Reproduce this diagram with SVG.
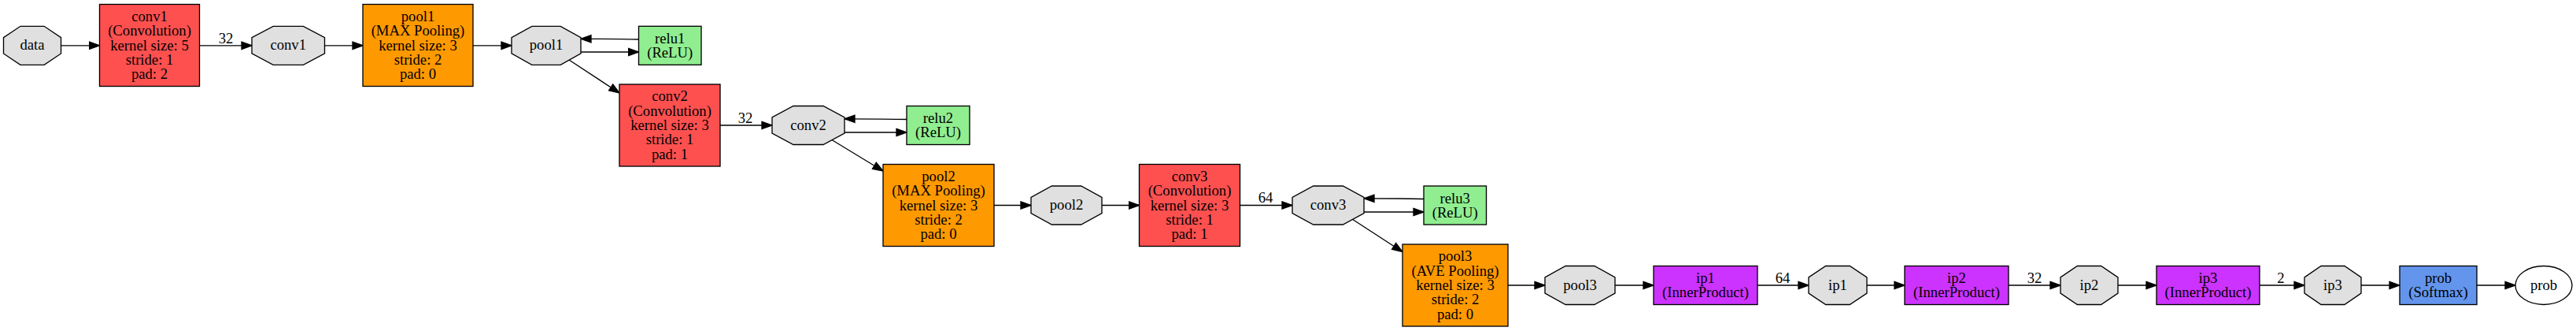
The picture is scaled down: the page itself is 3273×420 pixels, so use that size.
<svg xmlns="http://www.w3.org/2000/svg" width="3273" height="420" viewBox="0 0 3273 420">
<style>
.t{font-family:"Liberation Serif","Times New Roman",serif;font-size:18.67px;text-anchor:middle;fill:#000}
.blob{fill:#E0E0E0;stroke:#000;stroke-width:1.33}
.conv{fill:#FF5050;stroke:#000;stroke-width:1.33}
.pool{fill:#FF9900;stroke:#000;stroke-width:1.33}
.relu{fill:#90EE90;stroke:#000;stroke-width:1.33}
.ip{fill:#CC33FF;stroke:#000;stroke-width:1.33}
.sm{fill:#6495ED;stroke:#000;stroke-width:1.33}
.out{fill:#FFFFFF;stroke:#000;stroke-width:1.33}
.e{fill:none;stroke:#000;stroke-width:1.33;marker-end:url(#ah)}
</style>
<defs>
<marker id="ah" markerUnits="userSpaceOnUse" markerWidth="16" markerHeight="12" viewBox="0 0 16 12" refX="14" refY="6" orient="auto">
<path d="M1,1.33 L14,6 L1,10.67 Z" fill="#000" stroke="#000" stroke-width="1.33"/>
</marker>
</defs>
<rect width="3273" height="420" fill="#FFFFFF"/>
<g id="connectors">
<path class="e" d="M77.5,57.8 L126.5,57.8"/>
<path class="e" d="M253.5,57.8 L320,57.8"/>
<text class="t" x="287" y="55">32</text>
<path class="e" d="M412.5,57.8 L461,57.8"/>
<path class="e" d="M601,57.8 L650,57.8"/>
<path class="e" d="M811.5,50 C790,49.4 765,49.3 738,49.3"/>
<path class="e" d="M738,66 L811.5,66"/>
<path class="e" d="M723,76 L787,118"/>
<path class="e" d="M915,159 L981,159"/>
<text class="t" x="947" y="156">32</text>
<path class="e" d="M1152,151.5 C1131,150.9 1100,150.8 1073,150.8"/>
<path class="e" d="M1073,168 L1152,168"/>
<path class="e" d="M1057,177.5 L1122,217"/>
<path class="e" d="M1263,260.5 L1310,260.5"/>
<path class="e" d="M1400,260.5 L1447.5,260.5"/>
<path class="e" d="M1575.5,260.5 L1642,260.5"/>
<text class="t" x="1608" y="257">64</text>
<path class="e" d="M1809,252.5 C1788,251.9 1760,251.8 1733,251.8"/>
<path class="e" d="M1733,269 L1809,269"/>
<path class="e" d="M1718,278 L1782,319.5"/>
<path class="e" d="M1916,362 L1963,362"/>
<path class="e" d="M2052,362 L2101,362"/>
<path class="e" d="M2233,362 L2298,362"/>
<text class="t" x="2265" y="359">64</text>
<path class="e" d="M2372,362 L2420,362"/>
<path class="e" d="M2552,362 L2618,362"/>
<text class="t" x="2585" y="359">32</text>
<path class="e" d="M2691,362 L2740,362"/>
<path class="e" d="M2871,362 L2928,362"/>
<text class="t" x="2898" y="359">2</text>
<path class="e" d="M3000,362 L3049,362"/>
<path class="e" d="M3147,362 L3196,362"/>
</g>
<g id="data">
<polygon class="blob" points="25.9,33.3 56.1,33.3 77.5,47.65 77.5,67.95 56.1,82.3 25.9,82.3 4.5,67.95 4.5,47.65"/>
<text class="t" x="41" y="63.3">data</text>
</g>
<g id="conv1_layer">
<rect class="conv" x="126.5" y="5.5" width="127" height="104"/>
<text class="t" x="190" y="26.7">conv1</text>
<text class="t" x="190" y="45.1">(Convolution)</text>
<text class="t" x="190" y="63.5">kernel size: 5</text>
<text class="t" x="190" y="81.9">stride: 1</text>
<text class="t" x="190" y="100.3">pad: 2</text>
</g>
<g id="conv1_blob">
<polygon class="blob" points="347.1,33.3 385.4,33.3 412.5,47.65 412.5,67.95 385.4,82.3 347.1,82.3 320,67.95 320,47.65"/>
<text class="t" x="366.2" y="63.3">conv1</text>
</g>
<g id="pool1_layer">
<rect class="pool" x="461" y="5.5" width="140" height="104"/>
<text class="t" x="531" y="26.7">pool1</text>
<text class="t" x="531" y="45.1">(MAX Pooling)</text>
<text class="t" x="531" y="63.5">kernel size: 3</text>
<text class="t" x="531" y="81.9">stride: 2</text>
<text class="t" x="531" y="100.3">pad: 0</text>
</g>
<g id="pool1_blob">
<polygon class="blob" points="675.8,33.3 712.2,33.3 738,47.65 738,67.95 712.2,82.3 675.8,82.3 650,67.95 650,47.65"/>
<text class="t" x="694" y="63.3">pool1</text>
</g>
<g id="relu1">
<rect class="relu" x="811.5" y="33.3" width="79.5" height="49"/>
<text class="t" x="851.2" y="54.8">relu1</text>
<text class="t" x="851.2" y="73.2">(ReLU)</text>
</g>
<g id="conv2_layer">
<rect class="conv" x="787" y="107" width="128" height="104"/>
<text class="t" x="851" y="128.2">conv2</text>
<text class="t" x="851" y="146.6">(Convolution)</text>
<text class="t" x="851" y="165">kernel size: 3</text>
<text class="t" x="851" y="183.4">stride: 1</text>
<text class="t" x="851" y="201.8">pad: 1</text>
</g>
<g id="conv2_blob">
<polygon class="blob" points="1008,134.5 1046,134.5 1073,148.85 1073,169.15 1046,183.5 1008,183.5 981,169.15 981,148.85"/>
<text class="t" x="1027" y="164.5">conv2</text>
</g>
<g id="relu2">
<rect class="relu" x="1152" y="134.5" width="80" height="49"/>
<text class="t" x="1192" y="156">relu2</text>
<text class="t" x="1192" y="174.4">(ReLU)</text>
</g>
<g id="pool2_layer">
<rect class="pool" x="1122" y="208.5" width="141" height="104"/>
<text class="t" x="1192.5" y="229.7">pool2</text>
<text class="t" x="1192.5" y="248.1">(MAX Pooling)</text>
<text class="t" x="1192.5" y="266.5">kernel size: 3</text>
<text class="t" x="1192.5" y="284.9">stride: 2</text>
<text class="t" x="1192.5" y="303.3">pad: 0</text>
</g>
<g id="pool2_blob">
<polygon class="blob" points="1336.4,236 1373.6,236 1400,250.35 1400,270.65 1373.6,285 1336.4,285 1310,270.65 1310,250.35"/>
<text class="t" x="1355" y="266">pool2</text>
</g>
<g id="conv3_layer">
<rect class="conv" x="1447.5" y="208.5" width="128" height="104"/>
<text class="t" x="1511.5" y="229.7">conv3</text>
<text class="t" x="1511.5" y="248.1">(Convolution)</text>
<text class="t" x="1511.5" y="266.5">kernel size: 3</text>
<text class="t" x="1511.5" y="284.9">stride: 1</text>
<text class="t" x="1511.5" y="303.3">pad: 1</text>
</g>
<g id="conv3_blob">
<polygon class="blob" points="1668.7,236 1706.3,236 1733,250.35 1733,270.65 1706.3,285 1668.7,285 1642,270.65 1642,250.35"/>
<text class="t" x="1687.5" y="266">conv3</text>
</g>
<g id="relu3">
<rect class="relu" x="1809" y="236" width="79.5" height="49"/>
<text class="t" x="1848.7" y="257.5">relu3</text>
<text class="t" x="1848.7" y="275.9">(ReLU)</text>
</g>
<g id="pool3_layer">
<rect class="pool" x="1782" y="310" width="134" height="104"/>
<text class="t" x="1849" y="331.2">pool3</text>
<text class="t" x="1849" y="349.6">(AVE Pooling)</text>
<text class="t" x="1849" y="368">kernel size: 3</text>
<text class="t" x="1849" y="386.4">stride: 2</text>
<text class="t" x="1849" y="404.8">pad: 0</text>
</g>
<g id="pool3_blob">
<polygon class="blob" points="1989.1,337.5 2025.9,337.5 2052,351.85 2052,372.15 2025.9,386.5 1989.1,386.5 1963,372.15 1963,351.85"/>
<text class="t" x="2007.5" y="367.5">pool3</text>
</g>
<g id="ip1_layer">
<rect class="ip" x="2101" y="337.5" width="132" height="49"/>
<text class="t" x="2167" y="359">ip1</text>
<text class="t" x="2167" y="377.4">(InnerProduct)</text>
</g>
<g id="ip1_blob">
<polygon class="blob" points="2319.7,337.5 2350.3,337.5 2372,351.85 2372,372.15 2350.3,386.5 2319.7,386.5 2298,372.15 2298,351.85"/>
<text class="t" x="2335" y="367.5">ip1</text>
</g>
<g id="ip2_layer">
<rect class="ip" x="2420" y="337.5" width="132" height="49"/>
<text class="t" x="2486" y="359">ip2</text>
<text class="t" x="2486" y="377.4">(InnerProduct)</text>
</g>
<g id="ip2_blob">
<polygon class="blob" points="2639.4,337.5 2669.6,337.5 2691,351.85 2691,372.15 2669.6,386.5 2639.4,386.5 2618,372.15 2618,351.85"/>
<text class="t" x="2654.5" y="367.5">ip2</text>
</g>
<g id="ip3_layer">
<rect class="ip" x="2740" y="337.5" width="131" height="49"/>
<text class="t" x="2805.5" y="359">ip3</text>
<text class="t" x="2805.5" y="377.4">(InnerProduct)</text>
</g>
<g id="ip3_blob">
<polygon class="blob" points="2949.1,337.5 2978.9,337.5 3000,351.85 3000,372.15 2978.9,386.5 2949.1,386.5 2928,372.15 2928,351.85"/>
<text class="t" x="2964" y="367.5">ip3</text>
</g>
<g id="prob_layer">
<rect class="sm" x="3049" y="337.5" width="98" height="49"/>
<text class="t" x="3098" y="359">prob</text>
<text class="t" x="3098" y="377.4">(Softmax)</text>
</g>
<g id="prob_blob">
<ellipse class="out" cx="3232" cy="362" rx="36" ry="24.5"/>
<text class="t" x="3232" y="367.5">prob</text>
</g>
</svg>
